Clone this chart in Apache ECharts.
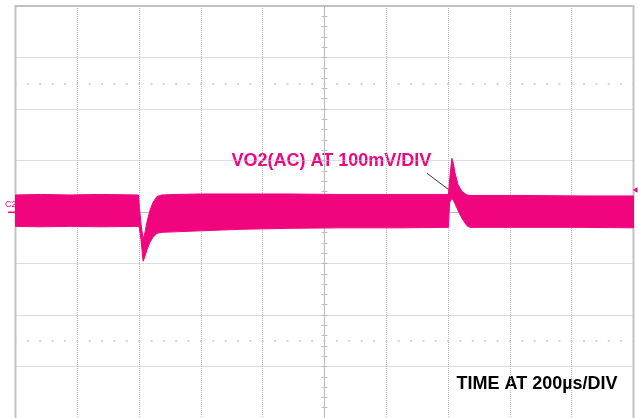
<!DOCTYPE html>
<html>
<head>
<meta charset="utf-8">
<script src="https://cdn.jsdelivr.net/npm/echarts@6/dist/echarts.min.js"></script>
<style>
  html, body { margin: 0; padding: 0; background: #ffffff; }
  #chart { width: 638px; height: 418px; }
</style>
</head>
<body>
<div id="chart"></div>
<script>
// Time relative to screen centre (µs), 200 µs/div, 10 divisions
const timeUs = [-1000, -920, -824, -726, -602,
  -599, -594, -587, -581, -574, -565, -555, -542, -526, -484, -403, -273, -112, 50, 244, 401,
  405, 412, 417, 422, 432, 445, 461, 471, 633, 827, 1000];
// Upper envelope of the noisy VO2 trace (mV), 100 mV/div
const upperMv = [33.1, 34.1, 33.1, 34.1, 33.1,
  8.9, -22.1, -53.0, -39.5, -18.2, 3.1, 18.6, 30.2, 33.1, 34.1, 35.0, 35.0, 35.0, 34.1, 34.1, 34.1,
  63.1, 104.3, 94.1, 76.7, 53.4, 39.9, 33.1, 32.1, 32.1, 31.2, 31.2];
// Lower envelope of the noisy VO2 trace (mV)
const lowerMv = [-27.9, -28.8, -27.9, -28.8, -27.9,
  -31.7, -53.0, -95.6, -85.9, -72.4, -58.8, -49.2, -41.4, -39.5, -38.5, -36.6, -33.7, -31.7, -30.8, -30.8, -29.8,
  18.6, 26.3, 22.5, 16.6, 3.1, -12.4, -26.9, -29.8, -29.8, -29.8, -30.8];
// Graticule settings
const timeRange = [-1000, 1000];
const timePerDiv = 200;
const voltRange = [-400, 400];
const voltPerDiv = 100;
const markerRowsMv = [250, -250];
const traceLabel = 'VO2(AC) AT 100mV/DIV';
const timeLabel = 'TIME AT 200µs/DIV';
const channelLabel = 'C2';

const MAG = '#F0057F';
const GRID = '#bcbcbc';
const FONT = '"Liberation Sans", Arial, sans-serif';

const chart = echarts.init(document.getElementById('chart'), null, { renderer: 'canvas' });

function xAx(pos, showSplit) {
  return {
    type: 'value', min: timeRange[0], max: timeRange[1], interval: timePerDiv, position: pos,
    axisLine: { show: true, onZero: true, lineStyle: { color: GRID, width: 1, type: [1, 1] } },
    axisTick: { show: true, length: 3, lineStyle: { color: GRID, width: 1 } },
    minorTick: { show: true, splitNumber: 5, length: 3, lineStyle: { color: GRID, width: 1 } },
    axisLabel: { show: false },
    splitLine: { show: showSplit, lineStyle: { color: GRID, width: 1, type: [1, 1] } }
  };
}
function yAx(pos, showSplit) {
  return {
    type: 'value', min: voltRange[0], max: voltRange[1], interval: voltPerDiv, position: pos,
    axisLine: { show: true, onZero: true, lineStyle: { color: GRID, width: 1, type: [1, 1] } },
    axisTick: { show: true, length: 3, lineStyle: { color: GRID, width: 1 } },
    minorTick: { show: true, splitNumber: 5, length: 3, lineStyle: { color: GRID, width: 1 } },
    axisLabel: { show: false },
    splitLine: { show: showSplit, lineStyle: { color: GRID, width: 1, type: [1, 1] } }
  };
}

const bandData = timeUs.map((t, i) => [t, upperMv[i], lowerMv[i]]);

// Draw the whole noise band as one polygon: upper envelope forward, lower envelope back
function renderBand(params, api) {
  if (params.dataIndexInside !== 0) return null;
  const n = bandData.length;
  const pts = [];
  for (let i = 0; i < n; i++) pts.push(api.coord([api.value(0, i), api.value(1, i)]));
  for (let i = n - 1; i >= 0; i--) pts.push(api.coord([api.value(0, i), api.value(2, i)]));
  return {
    type: 'polygon',
    shape: { points: pts },
    style: { fill: MAG, stroke: MAG, lineWidth: 1 }
  };
}

const option = {
  animation: false,
  backgroundColor: '#ffffff',
  grid: {
    show: false, left: 15.5, top: 6, width: 618, height: 413.3
  },
  xAxis: [xAx('bottom', true), xAx('top', false)],
  yAxis: [yAx('left', true), yAx('right', false)],
  series: [
    {
      type: 'custom', name: 'VO2', xAxisIndex: 0, yAxisIndex: 0, silent: true,
      renderItem: renderBand,
      encode: { x: 0, y: [1, 2] },
      data: bandData,
      markLine: {
        silent: true, symbol: 'none', label: { show: false },
        lineStyle: { color: '#c6c6c6', width: 1.5, type: [2, 10.36], dashOffset: 1 },
        data: markerRowsMv.map(v => ({ yAxis: v }))
      }
    }
  ],
  graphic: [
    // graticule frame (left, top, right)
    { type: 'polyline', silent: true, shape: { points: [[15.5, 418], [15.5, 6], [633.5, 6], [633.5, 418]] }, style: { stroke: '#c4c4c4', lineWidth: 2, fill: null } },
    { type: 'text', left: 5, top: 200, style: { text: channelLabel, font: '9px ' + FONT, fill: MAG } },
    { type: 'line', shape: { x1: 8, y1: 212.3, x2: 15.5, y2: 212.3 }, style: { stroke: MAG, lineWidth: 1.5 } },
    { type: 'polygon', shape: { points: [[637.5, 187.3], [632.5, 190], [637.5, 192.7]] }, style: { fill: MAG } },
    { type: 'line', shape: { x1: 427, y1: 173.3, x2: 448.3, y2: 189.3 }, style: { stroke: '#333333', lineWidth: 1 } },
    { type: 'text', x: 231.5, y: 152, style: { text: traceLabel, font: 'bold 18px ' + FONT, fill: MAG, verticalAlign: 'top' } },
    { type: 'text', x: 456.5, y: 375, style: { text: timeLabel, font: 'bold 18px ' + FONT, fill: '#000000', verticalAlign: 'top' } }
  ]
};
chart.setOption(option);
</script>
</body>
</html>
